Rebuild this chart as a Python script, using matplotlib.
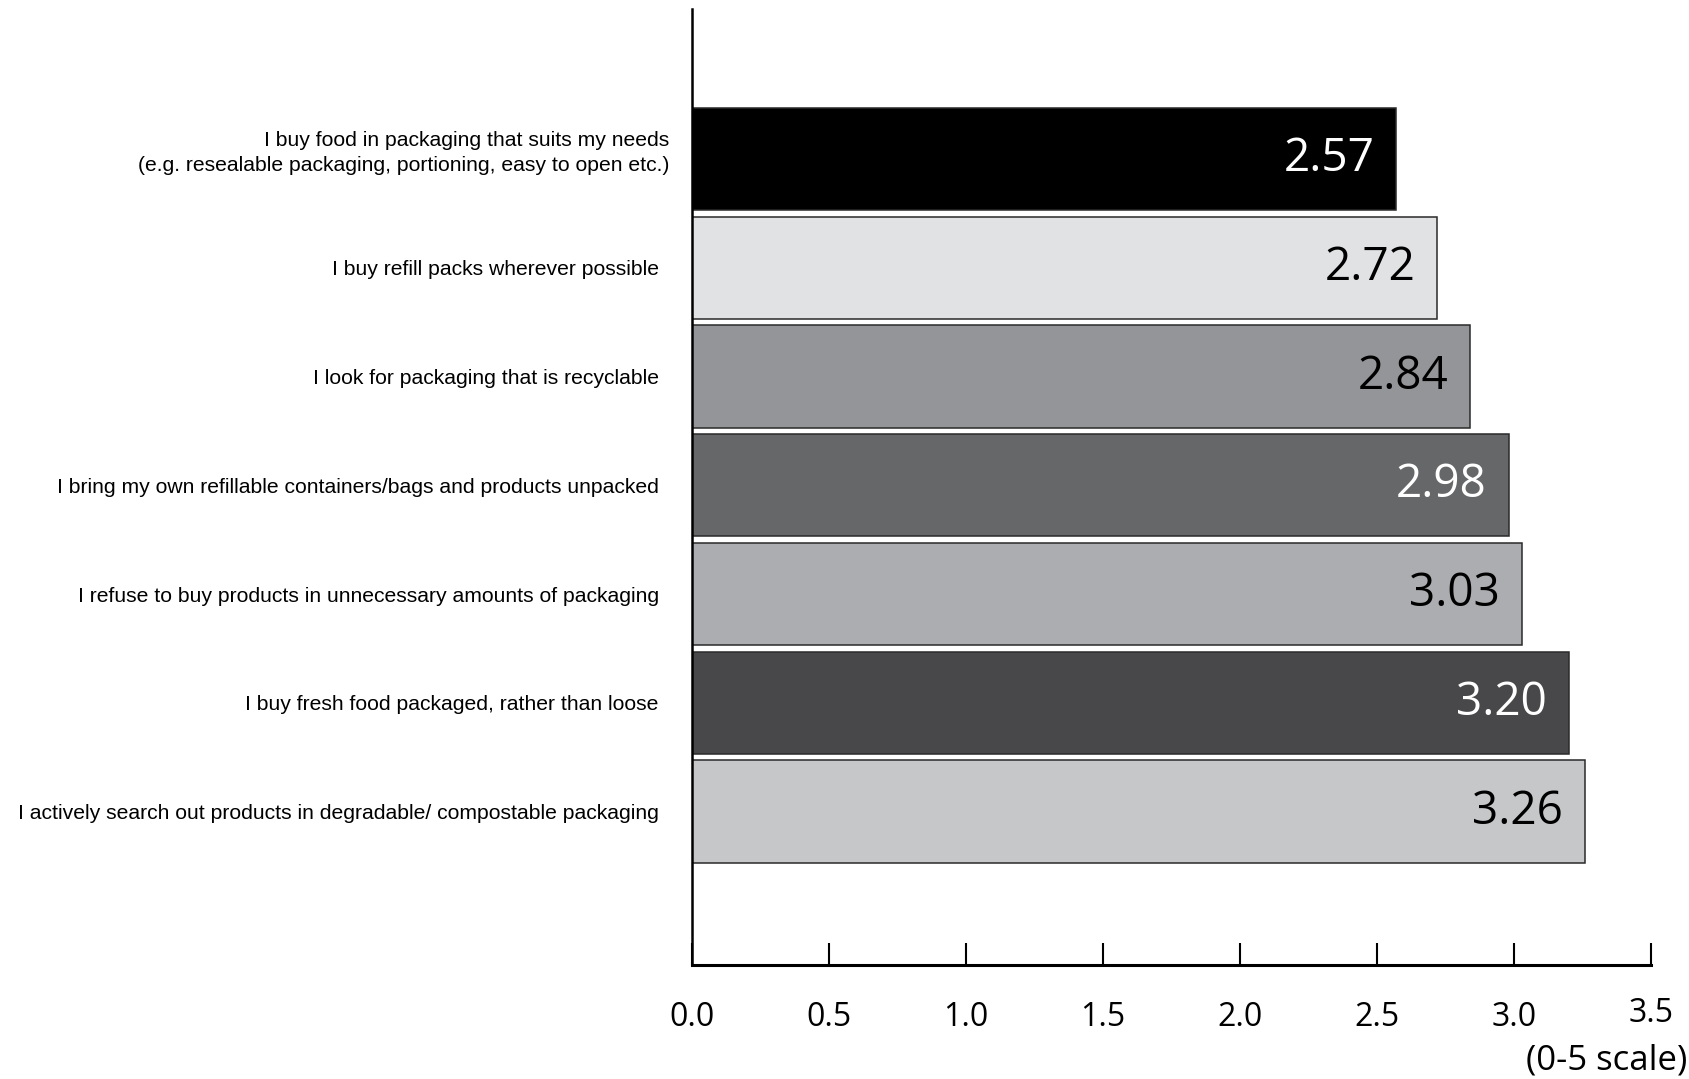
import matplotlib
matplotlib.use("Agg")
import matplotlib.pyplot as plt
import matplotlib.transforms as mtransforms

# survey statements, top to bottom
statements = [
    "I buy food in packaging that suits my needs\n(e.g. resealable packaging, portioning, easy to open etc.)",
    "I buy refill packs wherever possible",
    "I look for packaging that is recyclable",
    "I bring my own refillable containers/bags and products unpacked",
    "I refuse to buy products in unnecessary amounts of packaging",
    "I buy fresh food packaged, rather than loose",
    "I actively search out products in degradable/ compostable packaging",
]
scores = [2.57, 2.72, 2.84, 2.98, 3.03, 3.20, 3.26]
bar_colors = ["#000000", "#e1e2e4", "#939598", "#666769", "#acadb0", "#48484a", "#c6c7c9"]
label_colors = ["white", "black", "black", "white", "black", "white", "black"]
x_ticks = [0.0, 0.5, 1.0, 1.5, 2.0, 2.5, 3.0, 3.5]

value_font = ["Open Sans", "DejaVu Sans"]
label_font = ["Liberation Sans", "DejaVu Sans"]

fig = plt.figure(figsize=(16.89, 10.79), dpi=100)
ax = fig.add_axes([0.4097, 0.1057, 0.5678, 0.886])

ypos = list(range(len(scores)))
ax.barh(ypos, scores, height=0.94, color=bar_colors, edgecolor="#2a2a2a", linewidth=1.1)

for y, v, c in zip(ypos, scores, label_colors):
    ax.text(v - 0.08, y, f"{v:.2f}", ha="right", va="center", color=c,
            fontsize=33, family=value_font)

ax.set_xlim(0, 3.5)
ax.set_ylim(len(scores) - 1 + 1.41, -1.38)

ax.spines["top"].set_visible(False)
ax.spines["right"].set_visible(False)
ax.spines["left"].set_linewidth(1.8)
ax.spines["bottom"].set_linewidth(2.2)

ax.set_xticks(x_ticks)
ax.set_xticklabels([f"{t:.1f}" for t in x_ticks], family=value_font, fontsize=23)
ax.tick_params(axis="x", direction="in", length=16, width=1.5, pad=26)

# last tick label sits a bit higher in the original
last = ax.get_xticklabels()[-1]
last.set_transform(last.get_transform() + mtransforms.ScaledTranslation(0, 4 / 100, fig.dpi_scale_trans))

ax.set_yticks(ypos)
ax.set_yticklabels(statements, family=label_font, fontsize=15.2, linespacing=1.4)
ax.tick_params(axis="y", length=0, pad=24)

# first label sits a little further right and higher
first = ax.get_yticklabels()[0]
first.set_transform(first.get_transform() + mtransforms.ScaledTranslation(11 / 100, 11 / 100, fig.dpi_scale_trans))

fig.text(0.999, 0.017, "(0-5 scale)", ha="right", va="center", fontsize=25, family=value_font)

fig.savefig("out.png", dpi=100)
